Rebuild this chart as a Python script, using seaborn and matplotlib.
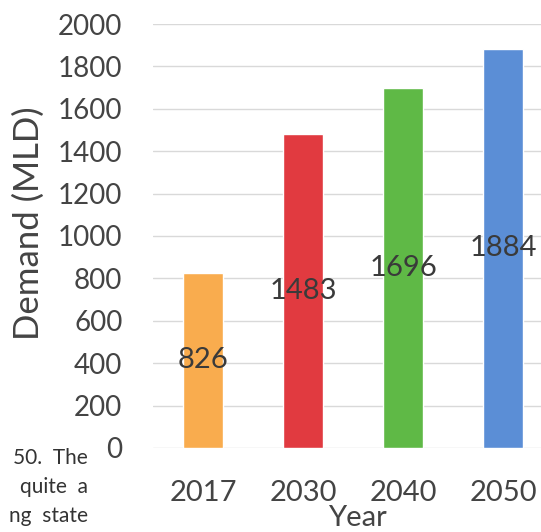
import matplotlib
matplotlib.use("Agg")
import matplotlib.pyplot as plt
import seaborn as sns

# data
years = ["2017", "2030", "2040", "2050"]
demand = [826, 1483, 1696, 1884]
bar_colors = ["#F9AC4E", "#E13A40", "#5FB946", "#5B8ED6"]

# bits of the scanned page text on the left
side_text = ["50.  The", "quite  a", "ng  state"]

sns.set_theme(style="white")
plt.rcParams["font.family"] = ["Lato", "DejaVu Sans"]

fig = plt.figure(figsize=(5.41, 5.32), dpi=100)
ax = fig.add_axes([153 / 541, 84 / 532, 400 / 541, 424 / 532])

sns.barplot(x=years, y=demand, hue=years, palette=bar_colors, width=0.4,
            saturation=1, legend=False, ax=ax)

for cont in ax.containers:
    ax.bar_label(cont, label_type="center", fontsize=21, color="#3a3a3a")

ax.set_xlim(-0.5, 3.5)
ax.set_ylim(0, 2000)
ax.set_yticks(range(0, 2001, 200))
ax.yaxis.grid(True, color="#d9d9d9", lw=1)
ax.set_axisbelow(True)
sns.despine(ax=ax, left=True, bottom=True)
ax.tick_params(axis="y", length=0, pad=22, labelsize=20, labelcolor="#444444")
ax.tick_params(axis="x", length=0, pad=23, labelsize=21, labelcolor="#444444")

ax.set_ylabel("Demand (MLD)", fontsize=25, color="#444444")
ax.yaxis.set_label_coords(-0.27, 0.53)
ax.set_xlabel("Year", fontsize=21, color="#444444")
ax.xaxis.set_label_coords(0.51, -0.135)

for i, t in enumerate(side_text):
    fig.text(88 / 541, 1 - (458 + i * 29) / 532, t, ha="right", va="center",
             fontsize=15, color="#333333")

fig.savefig("out.png", dpi=100)
